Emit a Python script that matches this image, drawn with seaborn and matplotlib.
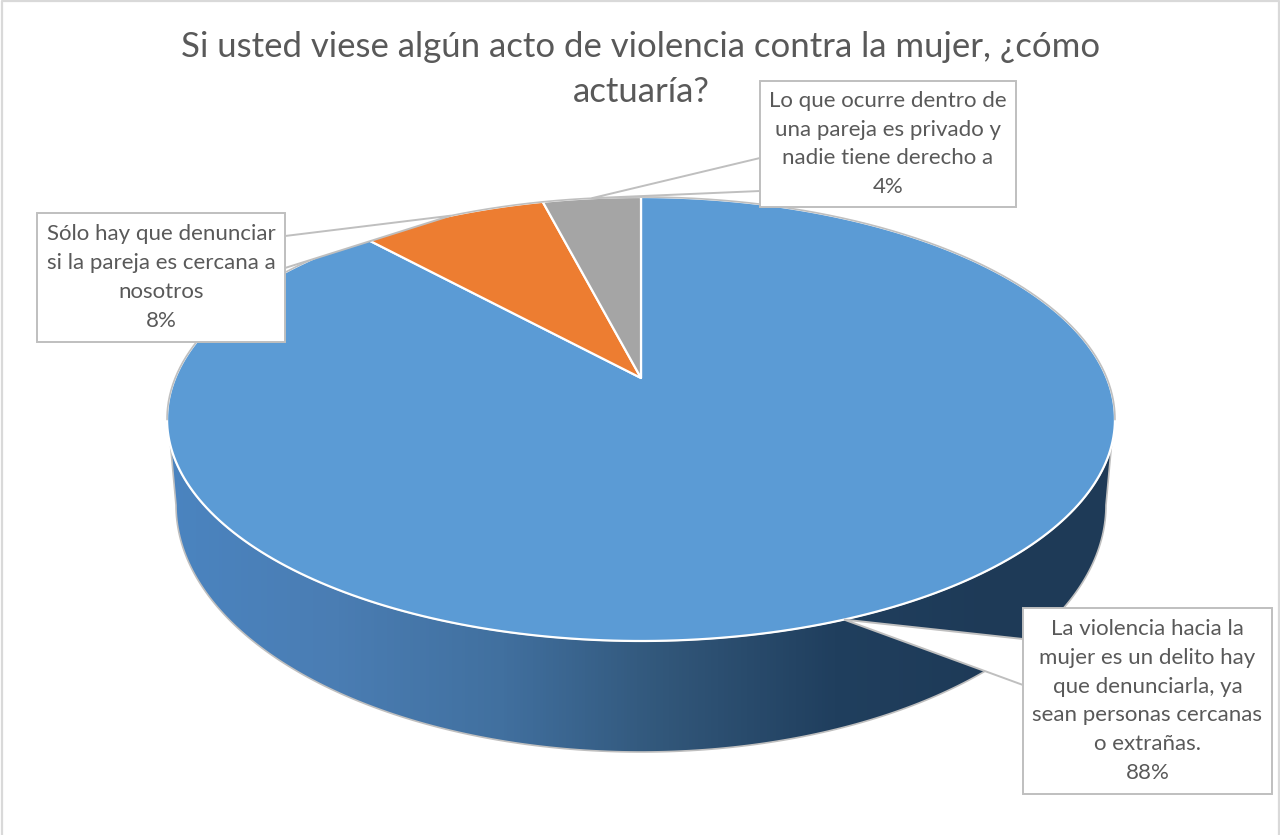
import numpy as np
import matplotlib
matplotlib.use("Agg")
import matplotlib.pyplot as plt
from matplotlib.patches import Polygon, Rectangle
import seaborn as sns

# slice order is clockwise from 12 o'clock
slice_values = [88.25, 7.75, 4.0]
slice_colors = ["#5b9bd5", "#ed7d31", "#a5a5a5"]
slice_labels = [
    "La violencia hacia la\nmujer es un delito hay\nque denunciarla, ya\nsean personas cercanas\no extrañas.",
    "Sólo hay que denunciar\nsi la pareja es cercana a\nnosotros",
    "Lo que ocurre dentro de\nuna pareja es privado y\nnadie tiene derecho a",
]
title_lines = ["Si usted viese algún acto de violencia contra la mujer, ¿cómo", "actuaría?"]
wall_colors = ["#4a84c0", "#4a7db3", "#41709f", "#315679", "#203f5e", "#1e3a57"]

# callout boxes as left, top, right, bottom and where the leader meets the box
boxes = [(1023, 608, 1272, 794), (37, 213, 285, 342), (760, 81, 1016, 207)]
leader_ends = [
    [(1023, 639), (1023, 685)],
    [(285, 236), (285, 268)],
    [(760, 158), (760, 191)],
]

TEXT = "#595959"
LINE = "#bfbfbf"

sns.set_theme(style="white")
plt.rcParams["font.family"] = ["Lato", "DejaVu Sans"]


def project(t):
    """Perspective view of the pie's top face, t clockwise from the top."""
    x, y = np.sin(t), np.cos(t)
    d = 1 + 0.1847 * y
    return 641 + 465.8 * x / d, (378 - 144.6 * y) / d


fig, ax = plt.subplots(figsize=(12.8, 8.35), dpi=100)
ax.set_position([0, 0, 1, 1])
ax.axis("off")

# side wall with the dark falloff to the right
tt = np.linspace(0, 2 * np.pi, 721)
tx, ty = project(tt)
front = ty >= 445
order = np.argsort(tx[front])
phi = np.linspace(np.pi, 0, 200)
wall_pts = np.column_stack([
    np.r_[tx[front][order], 641 + 465 * np.cos(phi)[::-1]],
    np.r_[ty[front][order], 505 + 247 * np.sin(phi)[::-1]],
])
wall_cmap = sns.blend_palette(wall_colors, n_colors=256, as_cmap=True)
wall_patch = Polygon(wall_pts, closed=True, fc="none", ec=LINE, lw=1.2, zorder=2)
ax.add_patch(wall_patch)
grad = ax.imshow(np.linspace(0, 1, 256)[None, :], cmap=wall_cmap,
                 extent=[170, 1000, 760, 430], aspect="auto", zorder=1.5)
edge_fill = Rectangle((1000, 430), 120, 330, fc=wall_colors[-1], ec="none", zorder=1.5)
ax.add_patch(edge_fill)
grad.set_clip_path(wall_patch)
edge_fill.set_clip_path(wall_patch)

# top face
edges = 2 * np.pi * np.cumsum([0] + slice_values) / sum(slice_values)
for i, color in enumerate(slice_colors):
    t = np.linspace(edges[i], edges[i + 1], 300)
    sx, sy = project(t)
    ax.add_patch(Polygon(np.column_stack([np.r_[641, sx], np.r_[378, sy]]), closed=True,
                         fc=color, ec="white", lw=1.6, joinstyle="round", zorder=3))

rear = np.linspace(-np.pi * 0.56, np.pi * 0.56, 400)
ax.plot(*project(rear), color=LINE, lw=1.2, zorder=4)

# callouts
mids = (edges[:-1] + edges[1:]) / 2
for i, box in enumerate(boxes):
    left, top, right, bottom = box
    tip = project(mids[i])
    ax.add_patch(Polygon([tip, leader_ends[i][0], leader_ends[i][1]], closed=True,
                         fc="white", ec=LINE, lw=1.4, zorder=5))
    ax.add_patch(Rectangle((left, top), right - left, bottom - top,
                           fc="white", ec=LINE, lw=1.4, zorder=6))
    pct = f"{round(slice_values[i]):d}%"
    ax.text((left + right) / 2, (top + bottom) / 2, slice_labels[i] + "\n" + pct,
            ha="center", va="center", fontsize=16, color=TEXT,
            linespacing=1.56, zorder=7)

# two texts so the second line keeps clear of the callout beside it
for line, y in zip(title_lines, [47, 92]):
    ax.text(641, y, line, ha="center", va="center", fontsize=25, color=TEXT, zorder=7)

# chart frame, cut off at the bottom of the picture
ax.plot([1.5, 1.5, 1278.5, 1278.5], [835, 0.5, 0.5, 835], color="#d9d9d9", lw=1.6, zorder=8)

ax.set_xlim(0, 1280)
ax.set_ylim(835, 0)
fig.savefig("out.png", dpi=100)
